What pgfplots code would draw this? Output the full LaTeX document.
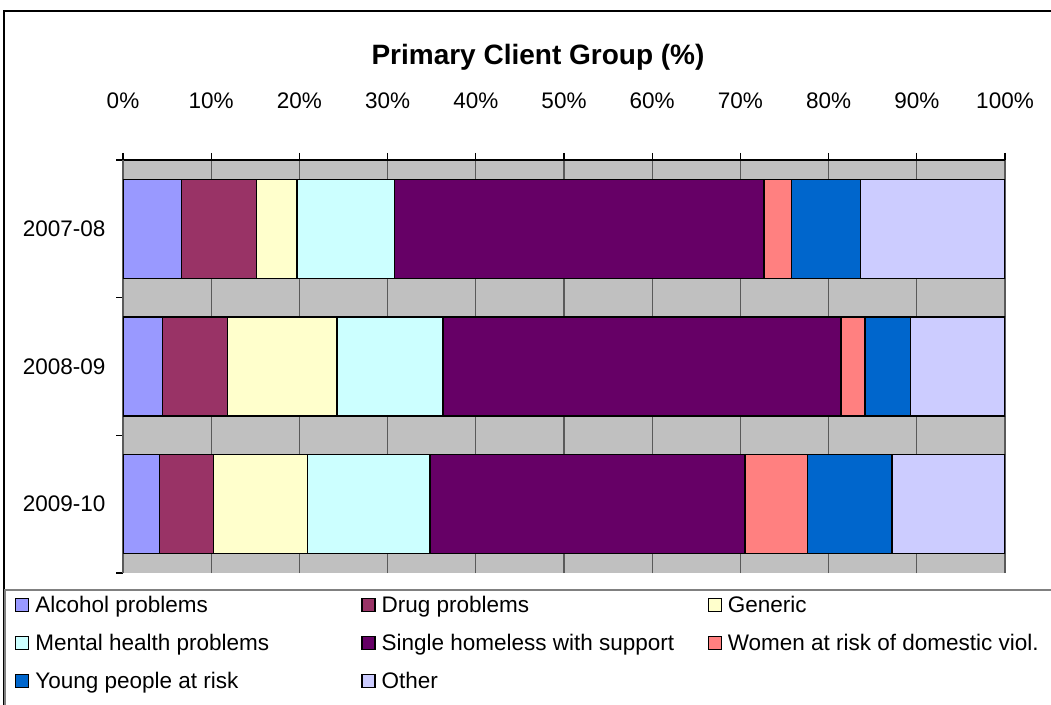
\documentclass[border=0pt]{standalone}
\usepackage{pgfplots}
\pgfplotsset{compat=1.18}
\usepackage{fontspec}
\setmainfont{Liberation Sans}
\definecolor{cAlc}{HTML}{9999FF}
\definecolor{cDrug}{HTML}{993366}
\definecolor{cGen}{HTML}{FFFFCC}
\definecolor{cMen}{HTML}{CCFFFF}
\definecolor{cSin}{HTML}{660066}
\definecolor{cWom}{HTML}{FF8080}
\definecolor{cYou}{HTML}{0066CC}
\definecolor{cOth}{HTML}{CCCCFF}
\definecolor{cBg}{HTML}{C0C0C0}
\definecolor{cGrid}{HTML}{5A5A5A}
\newcommand{\lf}{\fontsize{22.5}{26}\selectfont}
\newcommand{\lentry}[1]{\hspace{4pt}\makebox[324pt][l]{#1}}
\begin{document}
\begin{tikzpicture}
\useasboundingbox (0pt,0pt) rectangle (1051pt,704pt);
\clip (0pt,0pt) rectangle (1051pt,704pt);
\fill[white] (0pt,0pt) rectangle (1051pt,704pt);
\draw[black, line width=2pt] (4pt,-20pt) rectangle (1070pt,693pt);
\draw[gray, line width=1.5pt] (5pt,-20pt) rectangle (1070pt,114pt);
\node[font=\bfseries\fontsize{28}{32}\selectfont] at (538pt,647pt) {Primary Client Group (\%)};
\begin{axis}[
  at={(123pt,131pt)}, anchor=south west,
  scale only axis, width=882pt, height=413pt,
  xbar stacked, bar width=99pt,
  xmin=0, xmax=100, ymin=-0.5, ymax=2.5,
  axis x line*=top, axis y line*=left,
  axis line style={-},
  x axis line style={black, line width=1.5pt},
  y axis line style={cGrid, line width=1.5pt},
  axis background/.style={fill=cBg},
  xmajorgrids, major grid style={cGrid, line width=1.2pt},
  tick align=outside,
  major tick length=7pt, minor tick length=7pt,
  xtick={0,10,20,30,40,50,60,70,80,90,100},
  xticklabels={0\%,10\%,20\%,30\%,40\%,50\%,60\%,70\%,80\%,90\%,100\%},
  x tick style={black, line width=1.2pt},
  xticklabel style={font=\lf, yshift=41pt},
  ytick={0,1,2},
  yticklabels={2009-10,2008-09,2007-08},
  major y tick style={draw=none},
  minor ytick={-0.5,0.5,1.5,2.5},
  minor y tick style={black, line width=1.2pt},
  yticklabel style={font=\lf, xshift=-7pt},
  legend image code/.code={\draw[#1,draw=black,line width=1.2pt] (0pt,-6.5pt) rectangle (13pt,6.5pt);},
  legend columns=3,
  legend style={draw=none, fill=none, font=\lf, at={(axis description cs:-0.1259,-0.046)}, anchor=north west, row sep=16pt, legend cell align=left},
  every axis plot/.append style={draw=black, line width=1.5pt},
]
\addplot[fill=cAlc] coordinates {(4.16,0) (4.5,1) (6.65,2)};
\addplot[fill=cDrug] coordinates {(6.12,0) (7.33,1) (8.5,2)};
\addplot[fill=cGen] coordinates {(10.62,0) (12.43,1) (4.55,2)};
\addplot[fill=cMen] coordinates {(13.9,0) (12.04,1) (11.1,2)};
\addplot[fill=cSin] coordinates {(35.7,0) (45.1,1) (41.9,2)};
\addplot[fill=cWom] coordinates {(7.1,0) (2.7,1) (3.1,2)};
\addplot[fill=cYou] coordinates {(9.6,0) (5.2,1) (7.8,2)};
\addplot[fill=cOth] coordinates {(12.8,0) (10.7,1) (16.4,2)};
\legend{\lentry{Alcohol problems},\lentry{Drug problems},\lentry{Generic},
\lentry{Mental health problems},\lentry{Single homeless with support},\hspace{4pt}Women at risk of domestic viol.,
\lentry{Young people at risk},\lentry{Other}}
\end{axis}
\end{tikzpicture}
\end{document}
